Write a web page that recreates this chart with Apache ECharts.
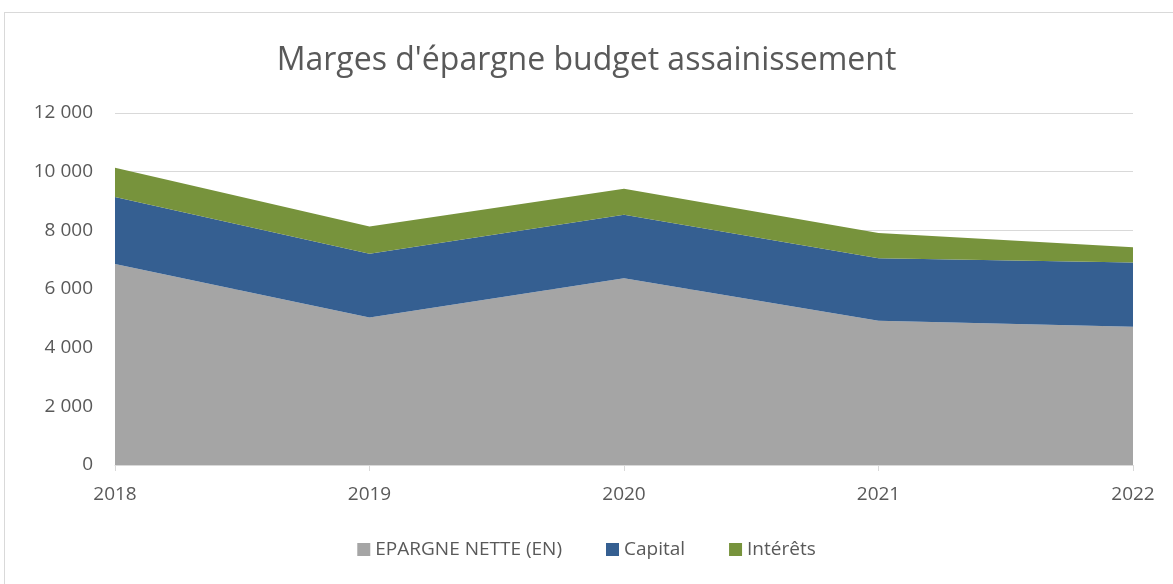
<!DOCTYPE html>
<html>
<head>
<meta charset="utf-8">
<script src="https://cdn.jsdelivr.net/npm/echarts@6/dist/echarts.min.js"></script>
<style>
  html, body { margin: 0; padding: 0; background: #fff; }
  #frame { position: absolute; left: 4px; top: 12px; width: 1180px; height: 600px; border: 1px solid #d9d9d9; box-sizing: border-box; }
  #chart { width: 1173px; height: 584px; }
</style>
</head>
<body>
<div id="frame"></div>
<div id="chart"></div>
<script>
var years = ['2018', '2019', '2020', '2021', '2022'];
var epargneNette = [6850, 5030, 6370, 4920, 4710];
var capital = [2290, 2170, 2160, 2130, 2190];
var interets = [990, 930, 890, 860, 520];

var myChart = echarts.init(document.getElementById('chart'));
var font = '"Open Sans", sans-serif';
function fmt(v) {
    return String(v).replace(/\B(?=(\d{3})+(?!\d))/g, ' ');
}
function area(name, data, color) {
    return {
        name: name,
        type: 'line',
        stack: 'total',
        data: data,
        symbol: 'none',
        lineStyle: { width: 0 },
        areaStyle: { color: color, opacity: 1 },
        itemStyle: { color: color }
    };
}
var option = {
    animation: false,
    title: {
        text: "Marges d'épargne budget assainissement",
        left: 'center',
        top: 40,
        textStyle: { color: '#595959', fontSize: 32, fontWeight: 'normal', fontFamily: font }
    },
    legend: {
        bottom: 20,
        left: 'center',
        itemWidth: 13,
        itemHeight: 13,
        itemGap: 44,
        icon: 'rect',
        textStyle: { color: '#595959', fontSize: 19, fontFamily: font },
        data: ['EPARGNE NETTE (EN)', 'Capital', 'Intérêts']
    },
    grid: { left: 115, right: 40, top: 113, bottom: 119 },
    xAxis: {
        type: 'category',
        data: years,
        boundaryGap: false,
        axisLine: { lineStyle: { color: '#d9d9d9' } },
        axisTick: { show: true, length: 6, lineStyle: { color: '#d9d9d9' } },
        axisLabel: { color: '#595959', fontSize: 19, fontFamily: font, margin: 20 }
    },
    yAxis: {
        type: 'value',
        min: 0,
        max: 12000,
        interval: 2000,
        axisLine: { show: false },
        axisTick: { show: false },
        splitLine: { lineStyle: { color: '#d9d9d9' } },
        axisLabel: { color: '#595959', fontSize: 19, fontFamily: font, margin: 22, formatter: fmt }
    },
    series: [
        area('EPARGNE NETTE (EN)', epargneNette, '#a5a5a5'),
        area('Capital', capital, '#355f91'),
        area('Intérêts', interets, '#77933c')
    ]
};
myChart.setOption(option);
</script>
</body>
</html>
